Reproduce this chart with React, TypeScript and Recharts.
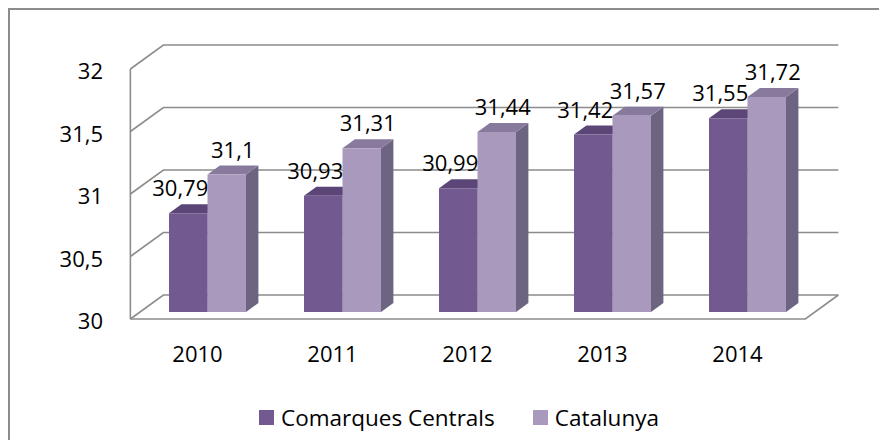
import { BarChart, Bar, XAxis, YAxis, CartesianGrid, LabelList } from 'recharts'

const years = ['2010', '2011', '2012', '2013', '2014']
const comarques = [30.79, 30.93, 30.99, 31.42, 31.55]
const catalunya = [31.1, 31.31, 31.44, 31.57, 31.72]
const yTicks = [30, 30.5, 31, 31.5, 32]

const SERIES = [
  { key: 'comarques', name: 'Comarques Centrals', front: '#72598f', top: '#5b4677', side: '#4f3d68', labelDx: -8 },
  { key: 'catalunya', name: 'Catalunya', front: '#a899bd', top: '#877a9c', side: '#6c6480', labelDx: 6 },
]

const data = years.map((y, i) => ({ year: y, comarques: comarques[i], catalunya: catalunya[i] }))

// 3d offsets (depth of bars, and of back wall / front plane relative to bars)
const DX = 12.4
const DY = 9
const BACK_DY = 17
const FRONT_DY = 7
const SLOPE = 33 / 24

const FONT = '"Open Sans", sans-serif'
const GRID = '#8c8c8c'

const fmt = (v: number) => String(v).replace('.', ',')

function Box3D(props: any) {
  const { x, y, width: w, height: h, front, top, side } = props
  if (h == null || w == null) return null
  return (
    <g>
      <polygon points={`${x + w},${y} ${x + w + DX},${y - DY} ${x + w + DX},${y + h - DY} ${x + w},${y + h}`} fill={side} />
      <polygon points={`${x},${y} ${x + DX},${y - DY} ${x + w + DX},${y - DY} ${x + w},${y}`} fill={top} />
      <rect x={x} y={y} width={w} height={h} fill={front} />
    </g>
  )
}

function gridLine(props: any) {
  const { x1, y1, x2, index, y: top, height } = props
  const fx = x1 - FRONT_DY * SLOPE
  const bx = x1 + BACK_DY * SLOPE
  const bxr = x2 + BACK_DY * SLOPE
  const isFloor = Math.abs(y1 - (top + height)) < 1
  return (
    <g key={`g-${index}`}>
      <path d={`M${fx},${y1 + FRONT_DY} L${bx},${y1 - BACK_DY} L${bxr},${y1 - BACK_DY}`} stroke={GRID} strokeWidth={1.6} fill="none" />
      {isFloor && (
        <>
          <path d={`M${fx},${y1 + FRONT_DY} L${x2 - FRONT_DY * SLOPE},${y1 + FRONT_DY} L${bxr},${y1 - BACK_DY}`} stroke={GRID} strokeWidth={1.6} fill="none" />
          <path d={`M${fx},${y1 + FRONT_DY} L${fx},${top + FRONT_DY}`} stroke={GRID} strokeWidth={1.6} fill="none" />
        </>
      )}
    </g>
  )
}

function YTick(props: any) {
  const { y, payload } = props
  return (
    <text x={103} y={y + FRONT_DY + 1} textAnchor="end" dominantBaseline="central" fontFamily={FONT} fontSize={22} fill="#000">
      {fmt(payload.value)}
    </text>
  )
}

function XTick(props: any) {
  const { x, payload } = props
  return (
    <text x={x - 10} y={353} textAnchor="middle" dominantBaseline="central" fontFamily={FONT} fontSize={22} fill="#000">
      {payload.value}
    </text>
  )
}

function valueLabel(dx: number) {
  return (props: any) => {
    const { x, y, width, value } = props
    return (
      <text x={x + width / 2 + dx} y={y - 26} textAnchor="middle" dominantBaseline="central" fontFamily={FONT} fontSize={22} fill="#000">
        {fmt(value)}
      </text>
    )
  }
}

export default function App() {
  return (
    <div style={{ position: 'relative', width: 887, height: 448, margin: -8, background: '#fff', overflow: 'hidden' }}>
      <div style={{ position: 'absolute', left: 8, top: 8, width: 879, height: 440, borderTop: `2px solid ${GRID}`, borderLeft: `2px solid ${GRID}`, boxSizing: 'border-box' }} />
      <div style={{ position: 'absolute', left: 0, top: 0 }}>
        <BarChart width={887} height={448} data={data} margin={{ top: 62, right: 72, left: 80, bottom: 106 }} barGap={0} barSize={38.5}>
          <CartesianGrid vertical={false} horizontal={gridLine} />
          <XAxis dataKey="year" axisLine={false} tickLine={false} height={30} tick={<XTick />} />
          <YAxis domain={[30, 32]} ticks={yTicks} axisLine={false} tickLine={false} width={60} tick={<YTick />} />
          {SERIES.map(s => (
            <Bar key={s.key} dataKey={s.key} name={s.name} isAnimationActive={false}
              shape={(p: any) => <Box3D {...p} front={s.front} top={s.top} side={s.side} />}>
              <LabelList dataKey={s.key} content={valueLabel(s.labelDx)} />
            </Bar>
          ))}
        </BarChart>
      </div>
      <div style={{ position: 'absolute', left: 259, top: 402, display: 'flex', alignItems: 'center', fontFamily: FONT, fontSize: 22.5, color: '#000', whiteSpace: 'nowrap' }}>
        {SERIES.map((s, i) => (
          <div key={s.key} style={{ display: 'flex', alignItems: 'center', marginLeft: i === 0 ? 0 : 38 }}>
            <span style={{ display: 'inline-block', width: 15, height: 15, background: s.front, marginRight: 7 }} />
            <span>{s.name}</span>
          </div>
        ))}
      </div>
    </div>
  )
}
